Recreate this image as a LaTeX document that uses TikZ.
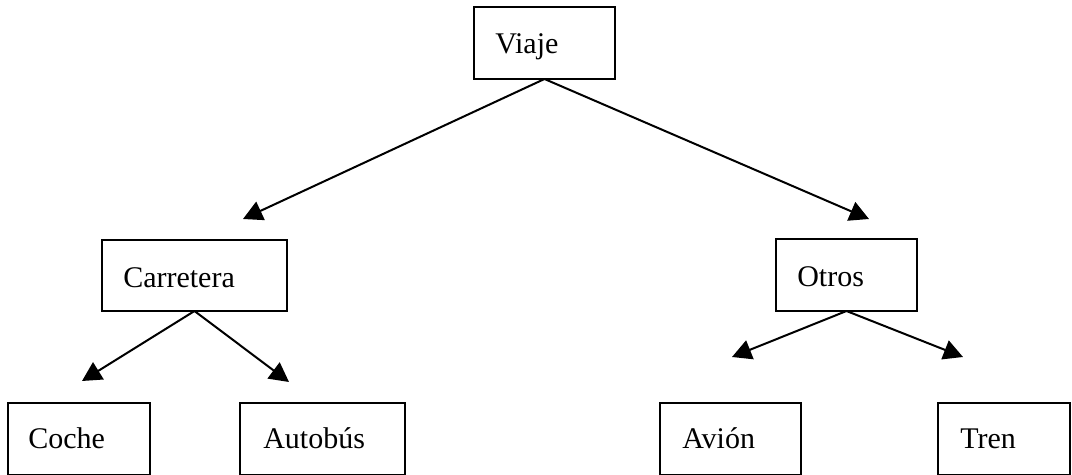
\documentclass[tikz,border=0pt]{standalone}
\usepackage{fontspec}
\setmainfont{Liberation Serif}
\usetikzlibrary{arrows.meta,calc}
\begin{document}
\begin{tikzpicture}[x=0.75pt,y=-0.75pt,
  box/.style={draw,line width=1.5pt,rectangle,inner sep=0pt,outer sep=0pt,anchor=north west},
  lbl/.style={anchor=base west,inner sep=0pt,font=\fontsize{22.5pt}{27pt}\selectfont},
  conn/.style={line width=1.5pt,-{Triangle[length=14.5pt,width=15pt]}}]
\useasboundingbox (0,0) rectangle (1072,475);
% boxes
\node[box,minimum width=105.75pt,minimum height=54pt] (viaje) at (474,7) {};
\node[box,minimum width=138.75pt,minimum height=53.25pt] (carr) at (102,240) {};
\node[box,minimum width=105.75pt,minimum height=54pt] (otros) at (776,239) {};
\node[box,minimum width=106.5pt,minimum height=54pt] (coche) at (8,403) {};
\node[box,minimum width=123.75pt,minimum height=54pt] (auto) at (240,403) {};
\node[box,minimum width=105.75pt,minimum height=54pt] (avion) at (660,403) {};
\node[box,minimum width=99pt,minimum height=54pt] (tren) at (938,403) {};
% labels
\node[lbl] (tviaje) at ($(viaje.north west)+(21,46)$) {Viaje};
\node[lbl] (tcarr) at ($(carr.north west)+(21,47)$) {Carretera};
\node[lbl] (totros) at ($(otros.north west)+(21,47)$) {Otros};
\node[lbl] (tcoche) at ($(coche.north west)+(20,45)$) {Coche};
\node[lbl] (tauto) at ($(auto.north west)+(23,45)$) {Autobús};
\node[lbl] (tavion) at ($(avion.north west)+(22,45)$) {Avión};
\node[lbl] (ttren) at ($(tren.north west)+(22,45)$) {Tren};
% arrow tips
\coordinate (vl) at (243,219);
\coordinate (vr) at (869,219);
\coordinate (cl) at (82,381);
\coordinate (cr) at (289,382);
\coordinate (ol) at (732,357);
\coordinate (or) at (963,357);
% connectors
\draw[conn] (viaje.south) -- (vl);
\draw[conn] (viaje.south) -- (vr);
\draw[conn] (carr.south) -- (cl);
\draw[conn] (carr.south) -- (cr);
\draw[conn] (otros.south) -- (ol);
\draw[conn] (otros.south) -- (or);
\end{tikzpicture}
\end{document}
